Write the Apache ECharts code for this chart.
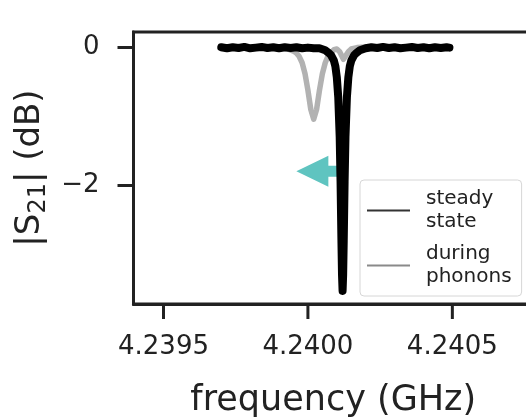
<!DOCTYPE html>
<html>
<head>
<meta charset="utf-8">
<script src="https://cdn.jsdelivr.net/npm/echarts@6/dist/echarts.min.js"></script>
<style>
  html, body { margin: 0; padding: 0; background: #fff; overflow: hidden; }
  #chart { width: 526px; height: 418px; }
</style>
</head>
<body>
<div id="chart"></div>
<script>
// Transmission |S21| of the resonator, steady state vs. during phonons
const freqSteady = [
  4.23970, 4.23972, 4.23974, 4.23976, 4.23978, 4.23980, 4.23982, 4.23984,
  4.23986, 4.23988, 4.23990, 4.23992, 4.23994, 4.23996, 4.23998, 4.24000,
  4.24002, 4.24004, 4.24006, 4.24007, 4.24008, 4.24009, 4.240095, 4.24010,
  4.240105, 4.24011, 4.240113, 4.240116, 4.240118, 4.24012, 4.240122,
  4.240124, 4.240127, 4.24013, 4.240135, 4.24014, 4.240145, 4.24015,
  4.24016, 4.24017, 4.24018, 4.24020, 4.24022, 4.24024, 4.24026, 4.24028,
  4.24030, 4.24032, 4.24034, 4.24036, 4.24038, 4.24040, 4.24042, 4.24044,
  4.24046, 4.24048, 4.24049
];
const s21Steady = [
  0.005, -0.01, 0.005, -0.005, 0.01, -0.01, 0.00, 0.01,
  -0.005, 0.005, -0.01, 0.005, -0.005, 0.005, -0.01, 0.00,
  -0.01, -0.01, -0.04, -0.07, -0.11, -0.19, -0.27, -0.43,
  -0.72, -1.30, -1.95, -2.80, -3.30, -3.54, -3.30,
  -2.80, -1.95, -1.30, -0.72, -0.43, -0.27, -0.19,
  -0.11, -0.07, -0.04, -0.01, 0.005, -0.005, 0.01, -0.005,
  0.005, -0.01, 0.00, 0.01, -0.005, 0.005, -0.01, 0.005,
  -0.005, 0.005, 0.00
];

const freqPhonon = [
  4.23970, 4.23974, 4.23978, 4.23982, 4.23986, 4.23990, 4.23993, 4.23995,
  4.23996, 4.23997, 4.23998, 4.23999, 4.24000, 4.24001, 4.24002, 4.24003,
  4.24004, 4.24005, 4.24006, 4.24007, 4.24008, 4.24009, 4.24010, 4.24011,
  4.240123, 4.24014, 4.24015, 4.24017, 4.24020, 4.24024, 4.24028, 4.24032,
  4.24036, 4.24040, 4.24044, 4.24049
];
const s21Phonon = [
  0.01, -0.01, 0.01, -0.01, 0.01, 0.00, -0.02, -0.05,
  -0.08, -0.13, -0.22, -0.38, -0.62, -0.90, -1.04, -0.90,
  -0.62, -0.38, -0.22, -0.12, -0.07, -0.03, -0.02, -0.06,
  -0.17, -0.06, -0.02, 0.00, 0.01, -0.01, 0.01, -0.01,
  0.01, 0.00, 0.01, 0.00
];

// Shift arrow: from the steady-state resonance toward the phonon-shifted one
const arrowFrom = [4.24012, -1.8];
const arrowTo = [4.23996, -1.8];

const seriesNames = ['steady state', 'during phonons'];
const xTicks = [4.2395, 4.2400, 4.2405];
const yTicks = [-2, 0];

const FONT = 'DejaVu Sans';
const INK = '#222';
const Y_MIN = -3.73, Y_MAX = 0.227;

const zip = (xs, ys) => xs.map((x, i) => [x, ys[i]]);

const chart = echarts.init(document.getElementById('chart'));

chart.setOption({
  animation: false,
  grid: {
    left: 133.5, top: 32, right: -7, bottom: 114,
    show: true, borderColor: INK, borderWidth: 3,
    outerBoundsMode: 'none'
  },
  xAxis: {
    type: 'value', position: 'bottom', z: 10,
    min: 4.2393962, max: 4.2407792,
    name: 'frequency (GHz)', nameLocation: 'middle', nameGap: 79,
    nameTextStyle: { fontFamily: FONT, fontSize: 35, color: INK },
    axisLine: { show: true, onZero: false, lineStyle: { color: INK, width: 3 } },
    axisTick: { show: false },
    axisLabel: {
      customValues: xTicks, margin: 30,
      fontFamily: FONT, fontSize: 26, color: INK,
      formatter: v => v.toFixed(4)
    },
    splitLine: { show: false }
  },
  yAxis: {
    type: 'value', z: 10,
    min: Y_MIN, max: Y_MAX,
    name: '|S{sub|21}| (dB)', nameLocation: 'middle', nameGap: 78, nameRotate: 90,
    nameTextStyle: {
      fontFamily: FONT, fontSize: 34, color: INK, lineHeight: 40,
      rich: { sub: { fontFamily: FONT, fontSize: 24, color: INK, verticalAlign: 'bottom', lineHeight: 40 } }
    },
    axisLine: { show: true, onZero: false, lineStyle: { color: INK, width: 3 } },
    axisTick: { show: true, length: 16, lineStyle: { color: INK, width: 3 }, customValues: yTicks },
    axisLabel: {
      customValues: yTicks, margin: 34,
      fontFamily: FONT, fontSize: 26, color: INK,
      formatter: v => (v < 0 ? '\u2212' + Math.abs(v) : String(v))
    },
    splitLine: { show: false }
  },
  legend: {
    orient: 'vertical',
    left: 360, top: 180,
    padding: [7, 10, 7, 7],
    itemGap: 8,
    itemWidth: 43, itemHeight: 2,
    icon: 'rect',
    selectedMode: false,
    backgroundColor: '#fff',
    borderColor: '#d6d6d6', borderWidth: 1, borderRadius: 4,
    textStyle: { fontFamily: FONT, fontSize: 20, lineHeight: 23.5, color: INK, padding: [0, 0, 0, 11] },
    formatter: name => name.replace(' ', '\n'),
    data: [
      { name: seriesNames[0], itemStyle: { color: '#333' } },
      { name: seriesNames[1], itemStyle: { color: '#8a8a8a' } }
    ]
  },
  series: [
    {
      name: seriesNames[1], type: 'line', z: 2,
      data: zip(freqPhonon, s21Phonon),
      showSymbol: false, symbol: 'none',
      itemStyle: { color: '#b2b2b2' },
      lineStyle: { color: '#b2b2b2', width: 5.5, cap: 'round', join: 'round' }
    },
    {
      type: 'custom', z: 3, silent: true,
      data: [[arrowFrom[0], arrowTo[0], arrowFrom[1]]],
      encode: { x: 0, y: 2 },
      renderItem: (params, api) => {
        const tail = api.coord([api.value(0), api.value(2)]);
        const tip = api.coord([api.value(1), api.value(2)]);
        const headLen = 32, headHalf = 15.5, shaftHalf = 5.5;
        const bx = tip[0] + headLen, y = tip[1];
        return {
          type: 'polygon',
          shape: { points: [
            [tip[0], y], [bx, y - headHalf], [bx, y - shaftHalf],
            [tail[0], y - shaftHalf], [tail[0], y + shaftHalf],
            [bx, y + shaftHalf], [bx, y + headHalf]
          ] },
          style: { fill: '#5fc4c0' }
        };
      }
    },
    {
      name: seriesNames[0], type: 'line', z: 4,
      data: zip(freqSteady, s21Steady),
      showSymbol: false, symbol: 'none',
      itemStyle: { color: '#000' },
      lineStyle: { color: '#000', width: 8, cap: 'round', join: 'round' }
    }
  ]
});

// Outward tick marks under the frequency axis, positioned through the axis scales
const yBottom = chart.convertToPixel({ yAxisIndex: 0 }, Y_MIN);
chart.setOption({
  graphic: xTicks.map(x => {
    const px = chart.convertToPixel({ xAxisIndex: 0 }, x);
    return {
      type: 'line', z: 100, silent: true,
      shape: { x1: px, y1: yBottom, x2: px, y2: yBottom + 15 },
      style: { stroke: INK, lineWidth: 3 }
    };
  })
});
</script>
</body>
</html>
